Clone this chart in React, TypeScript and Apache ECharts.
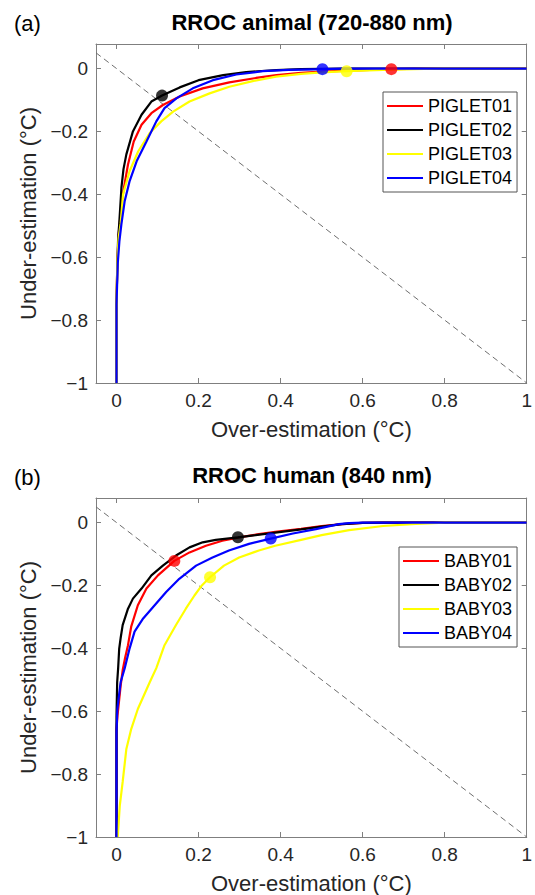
import React, { useEffect, useRef } from "react";
import * as echarts from "echarts";

const FONT = "'Liberation Sans', Arial, sans-serif";

const X_TICKS = [0, 0.2, 0.4, 0.6, 0.8, 1];
const Y_TICKS = [-1, -0.8, -0.6, -0.4, -0.2, 0];

const ANIMAL_NAMES = ["PIGLET01", "PIGLET02", "PIGLET03", "PIGLET04"];
const HUMAN_NAMES = ["BABY01", "BABY02", "BABY03", "BABY04"];
const COLORS = ["#ff0000", "#000000", "#ffff00", "#0000ff"];

// [over-estimation, under-estimation]
const PIGLET01 = [[0,-1],[0,-0.75],[0.002,-0.62],[0.005,-0.53],[0.008,-0.49],[0.012,-0.43],[0.018,-0.38],[0.028,-0.305],[0.042,-0.232],[0.061,-0.179],[0.085,-0.142],[0.113,-0.116],[0.154,-0.089],[0.21,-0.063],[0.275,-0.044],[0.34,-0.03],[0.39,-0.021],[0.45,-0.014],[0.5,-0.01],[0.6,-0.005],[0.67,-0.002],[0.75,0],[1,0]];
const PIGLET02 = [[0,-1],[0,-0.75],[0.002,-0.62],[0.004,-0.54],[0.0066,-0.494],[0.012,-0.379],[0.017,-0.32],[0.024,-0.273],[0.04,-0.2],[0.061,-0.147],[0.085,-0.105],[0.111,-0.086],[0.154,-0.06],[0.2,-0.037],[0.26,-0.021],[0.316,-0.011],[0.39,-0.005],[0.45,-0.002],[0.55,0],[1,0]];
const PIGLET03 = [[0,-1],[0,-0.75],[0.002,-0.62],[0.005,-0.54],[0.01,-0.494],[0.016,-0.4],[0.032,-0.326],[0.053,-0.263],[0.081,-0.205],[0.109,-0.168],[0.138,-0.137],[0.178,-0.105],[0.227,-0.079],[0.275,-0.058],[0.332,-0.04],[0.389,-0.026],[0.45,-0.017],[0.5,-0.012],[0.561,-0.0085],[0.65,-0.004],[0.75,-0.001],[0.8,0],[1,0]];
const PIGLET04 = [[0,-1],[0,-0.75],[0.003,-0.62],[0.007,-0.55],[0.012,-0.494],[0.02,-0.421],[0.032,-0.358],[0.049,-0.295],[0.073,-0.232],[0.097,-0.168],[0.117,-0.126],[0.146,-0.095],[0.186,-0.063],[0.235,-0.037],[0.292,-0.019],[0.356,-0.0085],[0.42,-0.004],[0.502,-0.002],[0.55,0],[1,0]];

const BABY01 = [[0,-1],[0,-0.656],[0.0024,-0.614],[0.01,-0.52],[0.015,-0.47],[0.021,-0.43],[0.028,-0.39],[0.036,-0.33],[0.052,-0.263],[0.073,-0.21],[0.101,-0.168],[0.141,-0.122],[0.178,-0.095],[0.218,-0.074],[0.258,-0.058],[0.299,-0.047],[0.347,-0.037],[0.387,-0.03],[0.45,-0.02],[0.5,-0.011],[0.55,-0.005],[0.6,-0.001],[0.65,0],[1,0]];
const BABY02 = [[0,-1],[0,-0.614],[0.0016,-0.508],[0.004,-0.463],[0.0065,-0.402],[0.01,-0.368],[0.015,-0.326],[0.028,-0.274],[0.04,-0.242],[0.061,-0.21],[0.085,-0.168],[0.113,-0.137],[0.145,-0.105],[0.178,-0.079],[0.21,-0.063],[0.242,-0.055],[0.296,-0.047],[0.339,-0.04],[0.387,-0.032],[0.45,-0.022],[0.5,-0.013],[0.55,-0.005],[0.6,-0.001],[0.65,0],[1,0]];
const BABY03 = [[0.003,-1],[0.008,-0.9],[0.015,-0.825],[0.024,-0.72],[0.036,-0.656],[0.052,-0.593],[0.081,-0.508],[0.097,-0.463],[0.117,-0.39],[0.145,-0.326],[0.169,-0.274],[0.19,-0.232],[0.208,-0.2],[0.228,-0.174],[0.262,-0.137],[0.299,-0.111],[0.347,-0.089],[0.387,-0.074],[0.45,-0.055],[0.5,-0.04],[0.567,-0.024],[0.65,-0.011],[0.73,-0.004],[0.8,0],[1,0]];
const BABY04 = [[0,-1],[0,-0.667],[0.002,-0.593],[0.01,-0.508],[0.02,-0.463],[0.032,-0.4],[0.044,-0.347],[0.065,-0.305],[0.093,-0.263],[0.121,-0.221],[0.153,-0.179],[0.194,-0.137],[0.234,-0.111],[0.274,-0.089],[0.323,-0.068],[0.376,-0.051],[0.43,-0.035],[0.486,-0.021],[0.542,-0.005],[0.567,-0.002],[0.6,0],[1,0]];

const ANIMAL_DOTS = [[0.67,-0.002],[0.111,-0.086],[0.561,-0.0085],[0.502,-0.002]];
const HUMAN_DOTS = [[0.141,-0.122],[0.296,-0.047],[0.228,-0.174],[0.376,-0.051]];

const DIAGONAL = [[-0.05,0.05],[1,-1]];

const AX = "#7f7f7f";
const TXT = "#262626";

const fmt = (v: number) => {
  const a = +Math.abs(v).toFixed(2);
  return v < -1e-9 ? "\u2212" + String(a) : String(a);
};

function xAxes(gridIndex: number) {
  const base = {
    type: "value",
    gridIndex,
    min: -0.05,
    max: 1,
    splitLine: { show: false },
    axisLine: { show: true, onZero: false, lineStyle: { color: AX, width: 1 } },
    axisTick: { show: true, inside: true, length: 5, customValues: X_TICKS, lineStyle: { color: AX } },
  };
  return [
    {
      ...base,
      position: "bottom",
      axisLabel: { customValues: X_TICKS, formatter: fmt, margin: 8, color: TXT, fontSize: 19, fontFamily: FONT },
      name: "Over-estimation (°C)",
      nameLocation: "middle",
      nameGap: 35,
      nameTextStyle: { fontSize: 22, color: TXT, fontFamily: FONT },
    },
    { ...base, position: "top", axisLabel: { show: false } },
  ];
}

function yAxes(gridIndex: number) {
  const base = {
    type: "value",
    gridIndex,
    min: -1,
    max: 0.078,
    splitLine: { show: false },
    axisLine: { show: true, onZero: false, lineStyle: { color: AX, width: 1 } },
    axisTick: { show: true, inside: true, length: 5, customValues: Y_TICKS, lineStyle: { color: AX } },
  };
  return [
    {
      ...base,
      position: "left",
      axisLabel: { customValues: Y_TICKS, formatter: fmt, margin: 8, color: TXT, fontSize: 19, fontFamily: FONT },
      name: "Under-estimation (°C)",
      nameLocation: "middle",
      nameGap: 56,
      nameTextStyle: { fontSize: 22, color: TXT, fontFamily: FONT },
    },
    { ...base, position: "right", axisLabel: { show: false } },
  ];
}

function panelSeries(axisIdx: number, names: string[], curves: number[][][], dots: number[][], tag: string) {
  const s: any[] = [
    {
      type: "line",
      name: "diag" + tag,
      xAxisIndex: axisIdx,
      yAxisIndex: axisIdx,
      data: DIAGONAL,
      symbol: "none",
      lineStyle: { color: "#6e6e6e", width: 1, type: [6, 4] },
      silent: true,
    },
  ];
  names.forEach((n, i) => {
    s.push({
      type: "line",
      name: n,
      xAxisIndex: axisIdx,
      yAxisIndex: axisIdx,
      data: curves[i],
      symbol: "none",
      color: COLORS[i],
      lineStyle: { color: COLORS[i], width: 2.2 },
    });
  });
  s.push({
    type: "scatter",
    name: "optimum" + tag,
    xAxisIndex: axisIdx,
    yAxisIndex: axisIdx,
    symbolSize: 12,
    data: dots.map((d, i) => ({ value: d, itemStyle: { color: COLORS[i] } })),
    z: 5,
  });
  return s;
}

function legend(names: string[], left: number, top: number) {
  return {
    data: names.map((n, i) => ({ name: n, icon: "rect", itemStyle: { color: COLORS[i] } })),
    orient: "vertical",
    left,
    top,
    padding: [5, 5, 5, 4],
    itemGap: 6,
    itemWidth: 36,
    itemHeight: 2,
    borderColor: "#555",
    borderWidth: 1,
    borderRadius: 0,
    backgroundColor: "#ffffff",
    selectedMode: false,
    textStyle: { fontSize: 18, lineHeight: 18, color: "#000", fontFamily: FONT },
  };
}

export default function App() {
  const ref = useRef<HTMLDivElement>(null);
  useEffect(() => {
    if (!ref.current) return;
    const chart = echarts.init(ref.current, undefined, { renderer: "svg" });
    const option: any = {
      animation: false,
      backgroundColor: "#ffffff",
      title: [
        { text: "RROC animal (720-880 nm)", left: 312, top: 11, textAlign: "center", padding: 0, textStyle: { fontSize: 22, fontWeight: "bold", color: "#000", fontFamily: FONT } },
        { text: "(a)", left: 14, top: 12, padding: 0, textStyle: { fontSize: 22, fontWeight: "normal", color: "#000", fontFamily: FONT } },
        { text: "RROC human (840 nm)", left: 312, top: 464, textAlign: "center", padding: 0, textStyle: { fontSize: 22, fontWeight: "bold", color: "#000", fontFamily: FONT } },
        { text: "(b)", left: 14, top: 466, padding: 0, textStyle: { fontSize: 22, fontWeight: "normal", color: "#000", fontFamily: FONT } },
      ],
      grid: [
        { left: 96, top: 44, width: 432, height: 339, containLabel: false },
        { left: 96, top: 498, width: 432, height: 339, containLabel: false },
      ],
      xAxis: [...xAxes(0), ...xAxes(1)],
      yAxis: [...yAxes(0), ...yAxes(1)],
      legend: [legend(ANIMAL_NAMES, 383, 92), legend(HUMAN_NAMES, 399, 547)],
      series: [
        ...panelSeries(0, ANIMAL_NAMES, [PIGLET01, PIGLET02, PIGLET03, PIGLET04], ANIMAL_DOTS, "a"),
        ...panelSeries(2, HUMAN_NAMES, [BABY01, BABY02, BABY03, BABY04], HUMAN_DOTS, "b"),
      ],
    };
    chart.setOption(option);
    return () => chart.dispose();
  }, []);
  return (
    <div
      ref={ref}
      style={{ position: "fixed", left: 0, top: 0, width: 535, height: 895, background: "#fff" }}
    />
  );
}
